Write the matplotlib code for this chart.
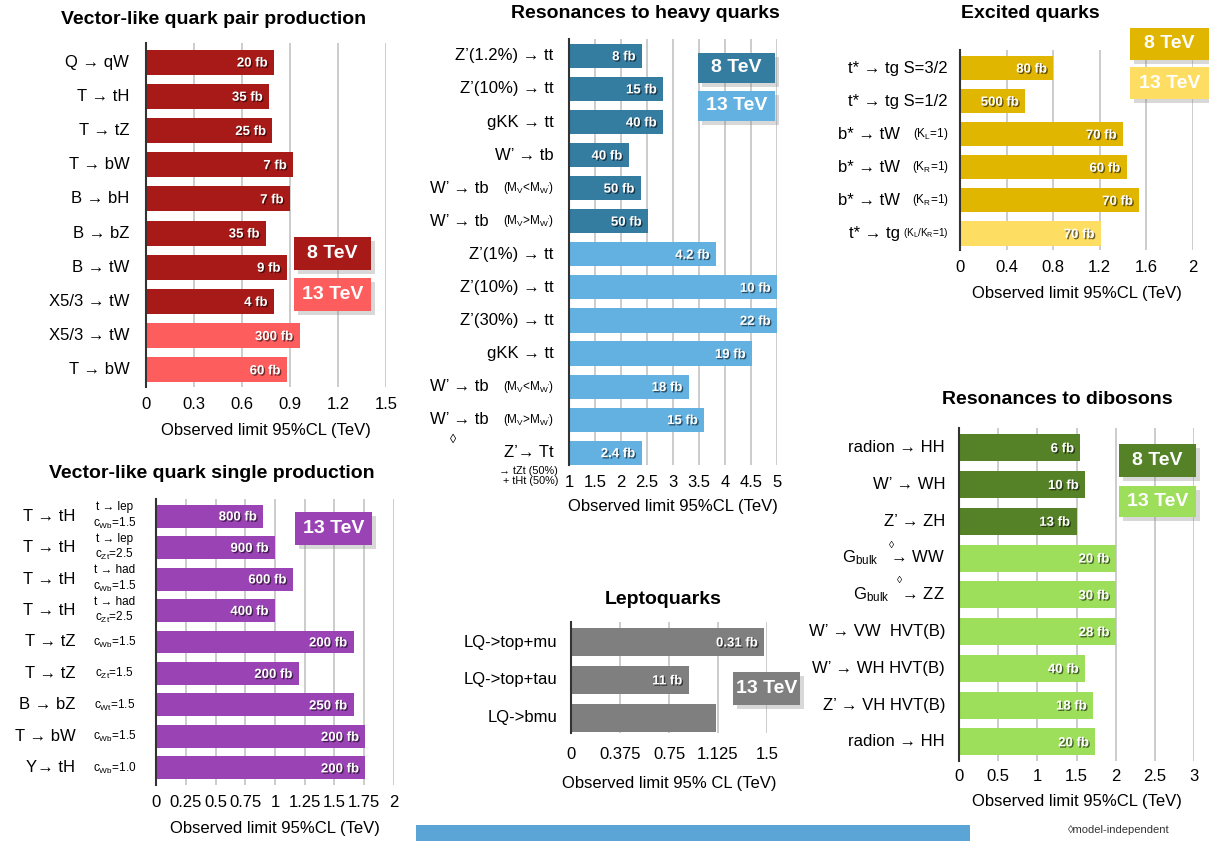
import matplotlib
matplotlib.use("Agg")
import matplotlib.pyplot as plt
import matplotlib.patheffects as pe
from matplotlib.patches import Rectangle

plt.rcParams["font.family"] = ["Liberation Sans", "DejaVu Sans"]
plt.rcParams["mathtext.fontset"] = "custom"
plt.rcParams["mathtext.rm"] = "Liberation Sans"
plt.rcParams["mathtext.it"] = "Liberation Sans:italic"
plt.rcParams["mathtext.bf"] = "Liberation Sans:bold"

# ---- data ----
pair_labels = ["Q → qW", "T → tH", "T → tZ", "T → bW", "B → bH", "B → bZ",
               "B → tW", "X5/3 → tW", "X5/3 → tW", "T → bW"]
pair_limits = [0.80, 0.77, 0.79, 0.92, 0.90, 0.75, 0.88, 0.80, 0.96, 0.88]
pair_xsec = ["20 fb", "35 fb", "25 fb", "7 fb", "7 fb", "35 fb", "9 fb", "4 fb", "300 fb", "60 fb"]
pair_energy = [8, 8, 8, 8, 8, 8, 8, 8, 13, 13]

single_labels = ["T → tH", "T → tH", "T → tH", "T → tH", "T → tZ", "T → tZ",
                 "B → bZ", "T → bW", "Y→ tH"]
single_sub = ["t → lep\nc$_\\mathrm{Wb}$=1.5", "t → lep\nc$_\\mathrm{Zt}$=2.5",
              "t → had\nc$_\\mathrm{Wb}$=1.5", "t → had\nc$_\\mathrm{Zt}$=2.5",
              "c$_\\mathrm{Wb}$=1.5", "c$_\\mathrm{Zt}$=1.5", "c$_\\mathrm{Wt}$=1.5",
              "c$_\\mathrm{Wb}$=1.5", "c$_\\mathrm{Wb}$=1.0"]
single_limits = [0.90, 1.0, 1.15, 1.0, 1.66, 1.2, 1.66, 1.76, 1.76]
single_xsec = ["800 fb", "900 fb", "600 fb", "400 fb", "200 fb", "200 fb", "250 fb", "200 fb", "200 fb"]

heavy_labels = ["Z’(1.2%) → tt", "Z’(10%) → tt", "gKK → tt", "W’ → tb", "W’ → tb", "W’ → tb",
                "Z’(1%) → tt", "Z’(10%) → tt", "Z’(30%) → tt", "gKK → tt", "W’ → tb", "W’ → tb",
                "Z’→ Tt"]
heavy_sub = ["", "", "", "", "(M$_\\mathrm{V}$<M$_\\mathrm{W'}$)", "(M$_\\mathrm{V}$>M$_\\mathrm{W'}$)",
             "", "", "", "", "(M$_\\mathrm{V}$<M$_\\mathrm{W'}$)", "(M$_\\mathrm{V}$>M$_\\mathrm{W'}$)", ""]
heavy_limits = [2.40, 2.81, 2.81, 2.15, 2.38, 2.52, 3.83, 5.0, 5.0, 4.52, 3.30, 3.60, 2.40]
heavy_xsec = ["8 fb", "15 fb", "40 fb", "40 fb", "50 fb", "50 fb", "4.2 fb", "10 fb", "22 fb",
              "19 fb", "18 fb", "15 fb", "2.4 fb"]
heavy_energy = [8] * 6 + [13] * 7

lq_labels = ["LQ->top+mu", "LQ->top+tau", "LQ->bmu"]
lq_limits = [1.48, 0.90, 1.11]
lq_xsec = ["0.31 fb", "11 fb", ""]

exc_labels = ["t* → tg S=3/2", "t* → tg S=1/2", "b* → tW", "b* → tW", "b* → tW", "t* → tg"]
exc_sub = ["", "", "(K$_\\mathrm{L}$=1)", "(K$_\\mathrm{R}$=1)", "(K$_\\mathrm{R}$=1)",
           "(K$_\\mathrm{L}$/K$_\\mathrm{R}$=1)"]
exc_limits = [0.80, 0.56, 1.40, 1.43, 1.54, 1.21]
exc_xsec = ["80 fb", "500 fb", "70 fb", "60 fb", "70 fb", "70 fb"]
exc_energy = [8, 8, 8, 8, 8, 13]

dib_labels = ["radion → HH", "W’ → WH", "Z’ → ZH", "G$_\\mathrm{bulk}$   → WW",
              "G$_\\mathrm{bulk}$   → ZZ", "W’ → VW  HVT(B)", "W’ → WH HVT(B)",
              "Z’ → VH HVT(B)", "radion → HH"]
dib_limits = [1.55, 1.61, 1.50, 2.0, 2.0, 2.0, 1.61, 1.71, 1.74]
dib_xsec = ["6 fb", "10 fb", "13 fb", "20 fb", "30 fb", "28 fb", "40 fb", "18 fb", "20 fb"]
dib_energy = [8, 8, 8, 13, 13, 13, 13, 13, 13]

W, H = 1209, 841
fig = plt.figure(figsize=(W / 100, H / 100), dpi=100)


def frac(l, t, r, b):
    return [l / W, 1 - b / H, (r - l) / W, (b - t) / H]


text_shadow = [pe.withSimplePatchShadow(offset=(1, -1), shadow_rgbFace="black", alpha=0.55)]
box_shadow = [pe.withSimplePatchShadow(offset=(3, -3), shadow_rgbFace="gray", alpha=0.3)]


def panel(box, labels, limits, xsec, colors, xlim, ticks, ticklabels, xlabel,
          ypad, gap, start=0, lpad=(7, 8)):
    ax = fig.add_axes(frac(*box))
    n = len(labels)
    ax.barh(range(n), [v - start for v in limits], left=start, height=0.73,
            color=colors, zorder=2)
    ax.set_ylim(n - 1 + ypad[1], -ypad[0])
    ax.set_xlim(*xlim)
    ax.set_yticks([])
    ax.set_xticks(ticks)
    ax.set_xticklabels(ticklabels, fontsize=12)
    ax.tick_params(axis="x", length=0, pad=lpad[0])
    ax.set_xlabel(xlabel, fontsize=12, labelpad=lpad[1])
    ax.grid(axis="x", color="#c8c8c8", lw=1.3, zorder=0)
    for s in ["top", "right", "bottom"]:
        ax.spines[s].set_visible(False)
    ax.spines["left"].set_color("#333333")
    ax.spines["left"].set_linewidth(1.5)
    ax.spines["left"].set_zorder(3)
    for i, (v, t) in enumerate(zip(limits, xsec)):
        if t:
            ax.annotate(t, xy=(v, i), xytext=(-4.5, -1), textcoords="offset points",
                        ha="right", va="center", color="white", fontsize=9.5,
                        fontweight="bold", path_effects=text_shadow, zorder=4)
        if gap is not None:
            ax.annotate(labels[i], xy=(0, i), xycoords=ax.get_yaxis_transform(),
                        xytext=(-gap, 0), textcoords="offset points",
                        ha="right", va="center", fontsize=12)
    return ax


def sub_labels(ax, subs, gap, ha="right", sizes=None):
    for i, s in enumerate(subs):
        if s:
            ax.annotate(s, xy=(0, i), xycoords=ax.get_yaxis_transform(),
                        xytext=(-gap, 0), textcoords="offset points",
                        ha=ha, va="center", fontsize=sizes[i] if sizes else 8.5,
                        linespacing=1.2)


def main_labels(ax, labels, subs, gap_plain, gap_sub):
    for i, (lab, s) in enumerate(zip(labels, subs)):
        g = gap_sub if s else gap_plain
        ax.annotate(lab, xy=(0, i), xycoords=ax.get_yaxis_transform(),
                    xytext=(-g, 0), textcoords="offset points",
                    ha="right", va="center", fontsize=12)


def tag(l, t, r, b, text, color):
    rect = Rectangle((l / W, 1 - b / H), (r - l) / W, (b - t) / H,
                     transform=fig.transFigure, facecolor=color, edgecolor="none",
                     path_effects=box_shadow, zorder=5)
    fig.add_artist(rect)
    fig.text((l + r) / 2 / W, 1 - (t + b) / 2 / H, text, ha="center", va="center",
             color="white", fontsize=14, fontweight="bold", zorder=6)


def title(x, y, text):
    fig.text(x / W, 1 - y / H, text, ha="center", va="center", fontsize=14, fontweight="bold")


c_pair8, c_pair13 = "#a81a17", "#fe5d5d"
c_single = "#9a43b5"
c_heavy8, c_heavy13 = "#357ca1", "#62b1e1"
c_lq = "#7f7f7f"
c_exc8, c_exc13 = "#e1b600", "#fede62"
c_dib8, c_dib13 = "#558127", "#9dde5a"

# Vector-like quark pair production
panel((146, 43, 386, 387), pair_labels, pair_limits, pair_xsec,
      [c_pair8 if e == 8 else c_pair13 for e in pair_energy],
      (0, 1.5), [0, 0.3, 0.6, 0.9, 1.2, 1.5], ["0", "0.3", "0.6", "0.9", "1.2", "1.5"],
      "Observed limit 95%CL (TeV)", (0.56, 0.5), 12)
title(214, 20, "Vector-like quark pair production")
tag(294, 237, 371, 270, "8 TeV", c_pair8)
tag(294, 278, 371, 311, "13 TeV", c_pair13)

# Vector-like quark single production
ax = panel((156, 499, 394, 785), single_labels, single_limits, single_xsec, c_single,
           (0, 2), [0, 0.25, 0.5, 0.75, 1, 1.25, 1.5, 1.75, 2],
           ["0", "0.25", "0.5", "0.75", "1", "1.25", "1.5", "1.75", "2"],
           "Observed limit 95%CL (TeV)", (0.54, 0.54), 58)
sub_labels(ax, single_sub, 30, ha="center")
title(212, 473, "Vector-like quark single production")
tag(295, 512, 372, 545, "13 TeV", c_single)

# Resonances to heavy quarks
ax = panel((569, 39, 777, 465), heavy_labels, heavy_limits, heavy_xsec,
           [c_heavy8 if e == 8 else c_heavy13 for e in heavy_energy],
           (1, 5), [1, 1.5, 2, 2.5, 3, 3.5, 4, 4.5, 5],
           ["1", "1.5", "2", "2.5", "3", "3.5", "4", "4.5", "5"],
           "Observed limit 95%CL (TeV)", (0.51, 0.37), None, start=1, lpad=(7, 7))
main_labels(ax, heavy_labels, heavy_sub, 11, 58)
sub_labels(ax, heavy_sub, 11)
title(645, 14, "Resonances to heavy quarks")
tag(698, 53, 775, 83, "8 TeV", c_heavy8)
tag(698, 91, 775, 121, "13 TeV", c_heavy13)
fig.text(453 / W, 1 - 440 / H, "◊", ha="center", va="center", fontsize=9)
fig.text(558 / W, 1 - 476 / H, "→ tZt (50%)\n+ tHt (50%)", ha="right", va="center",
         fontsize=7.8, linespacing=1.1)

# Leptoquarks
panel((571, 622, 767, 733), lq_labels, lq_limits, lq_xsec, c_lq,
      (0, 1.5), [0, 0.375, 0.75, 1.125, 1.5], ["0", "0.375", "0.75", "1.125", "1.5"],
      "Observed limit 95% CL (TeV)", (0.53, 0.4), 10, lpad=(10, 10))
title(663, 600, "Leptoquarks")
tag(733, 672, 800, 705, "13 TeV", c_lq)

# Excited quarks
ax = panel((960, 50, 1193, 250), exc_labels, exc_limits, exc_xsec,
           [c_exc8 if e == 8 else c_exc13 for e in exc_energy],
           (0, 2), [0, 0.4, 0.8, 1.2, 1.6, 2], ["0", "0.4", "0.8", "1.2", "1.6", "2"],
           "Observed limit 95%CL (TeV)", (0.55, 0.5), None)
main_labels(ax, exc_labels, exc_sub, 9, 43)
sub_labels(ax, exc_sub, 8, sizes=[8.5, 8.5, 8.5, 8.5, 8.5, 7.2])
title(1030, 13, "Excited quarks")
tag(1130, 28, 1209, 60, "8 TeV", c_exc8)
tag(1130, 67, 1209, 99, "13 TeV", c_exc13)

# Resonances to dibosons
panel((959, 428, 1194, 761), dib_labels, dib_limits, dib_xsec,
      [c_dib8 if e == 8 else c_dib13 for e in dib_energy],
      (0, 3), [0, 0.5, 1, 1.5, 2, 2.5, 3], ["0", "0.5", "1", "1.5", "2", "2.5", "3"],
      "Observed limit 95%CL (TeV)", (0.54, 0.52), 10, lpad=(6, 7))
title(1057, 399, "Resonances to dibosons")
tag(1119, 444, 1196, 477, "8 TeV", c_dib8)
tag(1119, 486, 1196, 517, "13 TeV", c_dib13)
fig.text(892 / W, 1 - 545 / H, "◊", ha="center", va="center", fontsize=7.5)
fig.text(900 / W, 1 - 580 / H, "◊", ha="center", va="center", fontsize=7.5)

fig.text(1068 / W, 1 - 830 / H, "◊model-independent", ha="left", va="center",
         fontsize=8, color="#333333")
fig.add_artist(Rectangle((416 / W, 0), (970 - 416) / W, 16 / H, transform=fig.transFigure,
                         facecolor="#5aa5d6", edgecolor="none"))

fig.savefig("out.png", dpi=100)
